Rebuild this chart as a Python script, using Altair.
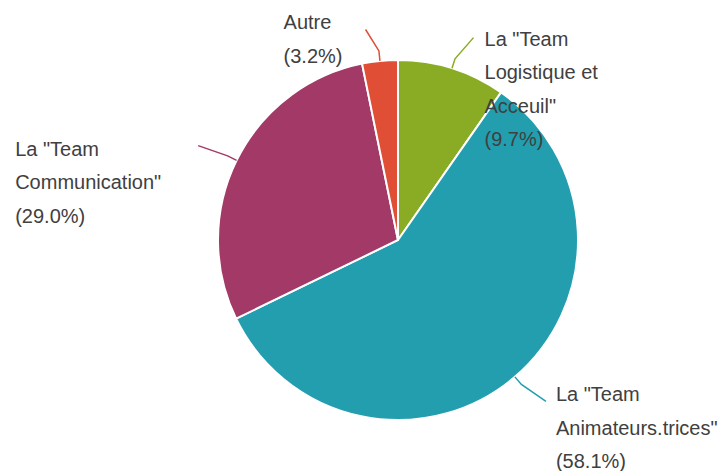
import math
import altair as alt
import pandas as pd

# ---- data ----
categories = ['La "Team Logistique et Acceuil"', 'La "Team Animateurs.trices"',
              'La "Team Communication"', 'Autre']
values = [9.7, 58.1, 29.0, 3.2]
label_lines = [
    ['La "Team', 'Logistique et', 'Acceuil"', '(9.7%)'],
    ['La "Team', 'Animateurs.trices"', '(58.1%)'],
    ['La "Team', 'Communication"', '(29.0%)'],
    ['Autre', '(3.2%)'],
]
colors = ["#8aac24", "#229eaf", "#a33966", "#e04e35"]

# ---- layout / style ----
W, H = 712, 463
CX, CY = 390, 232
R = 180
# leader line: radial part then bent part (angle shift in degrees, end radius)
bend = [(3, 216), (-2, 219), (-1, 221), (-3, 213)]
# label offset from leader end (left, baseline)
label_off = [(11, 8), (10, 0), (-183, 10), (-82, 0)]
LINE_H = 33.5

total = sum(values)
cum = 0
line_rows, text_rows = [], []
for i, (c, v) in enumerate(zip(categories, values)):
    mid = (cum + v / 2) / total * 360
    cum += v
    pts = [(R, mid), (R + 10, mid), (bend[i][1], mid + bend[i][0])]
    for k, (r, ang) in enumerate(pts):
        t = math.radians(ang)
        line_rows.append({"cat": c, "k": k, "x": CX + r * math.sin(t), "y": CY - r * math.cos(t)})
    ex, ey = line_rows[-1]["x"], line_rows[-1]["y"]
    text_rows.append({"cat": c, "x": ex + label_off[i][0], "y": ey + label_off[i][1],
                      "txt": "\n".join(label_lines[i])})

pie_df = pd.DataFrame({"cat": categories, "value": values, "idx": list(range(len(values)))})
line_df = pd.DataFrame(line_rows)
text_df = pd.DataFrame(text_rows)

cscale = alt.Scale(domain=categories, range=colors)
xs = alt.Scale(domain=[0, W], range=[0, W], nice=False, zero=False)
ys = alt.Scale(domain=[0, H], range=[0, H], nice=False, zero=False)

pie = alt.Chart(pie_df).mark_arc(outerRadius=R, stroke="white", strokeWidth=2).encode(
    theta=alt.Theta("value:Q", stack=True),
    order=alt.Order("idx:Q"),
    color=alt.Color("cat:N", scale=cscale, legend=None),
    x=alt.value(CX), y=alt.value(CY),
)

lines = alt.Chart(line_df).mark_line(strokeWidth=1.5).encode(
    x=alt.X("x:Q", scale=xs, axis=None),
    y=alt.Y("y:Q", scale=ys, axis=None),
    order="k:Q",
    color=alt.Color("cat:N", scale=cscale, legend=None),
)

texts = alt.Chart(text_df).mark_text(
    align="left", baseline="alphabetic", font="Liberation Sans", fontSize=20,
    lineBreak="\n", lineHeight=LINE_H, color="#404040",
).encode(
    x=alt.X("x:Q", scale=xs, axis=None),
    y=alt.Y("y:Q", scale=ys, axis=None),
    text="txt:N",
)

chart = alt.layer(pie, lines, texts).properties(
    width=W, height=H, padding=0, autosize=alt.AutoSizeParams(type="none"),
).configure_view(strokeWidth=0)

chart.save("out.html", embed_options={"renderer": "svg", "actions": False})
